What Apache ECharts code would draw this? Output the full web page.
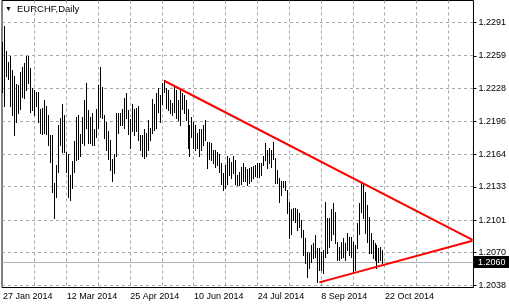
<!DOCTYPE html>
<html><head><meta charset="utf-8">
<script src="https://cdn.jsdelivr.net/npm/echarts@6/dist/echarts.min.js"></script>
<style>html,body{margin:0;padding:0;background:#fff}#c{width:509px;height:306px}</style>
</head><body><div id="c"></div>
<script>
const symbolName = 'EURCHF,Daily';
const firstDay = [2014, 0, 27];
const totalSlots = 237;
const monthNames = ['Jan','Feb','Mar','Apr','May','Jun','Jul','Aug','Sep','Oct','Nov','Dec'];
const highs = [
1.2272,1.2288,1.2264,1.2253,1.2259,1.2245,1.2240,1.2232,1.2231,1.2243,1.2248,1.2252,1.2259,1.2259,1.2247,1.2228,
1.2226,1.2224,1.2224,1.2208,1.2209,1.2216,1.2211,1.2202,1.2183,1.2183,1.2137,1.2154,1.2192,1.2199,1.2213,1.2202,
1.2166,1.2165,1.2144,1.2158,1.2177,1.2200,1.2202,1.2184,1.2200,1.2216,1.2233,1.2207,1.2200,1.2204,1.2189,1.2208,
1.2231,1.2248,1.2229,1.2202,1.2195,1.2187,1.2178,1.2160,1.2165,1.2204,1.2204,1.2204,1.2208,1.2218,1.2223,1.2207,
1.2198,1.2213,1.2208,1.2209,1.2211,1.2183,1.2183,1.2189,1.2185,1.2197,1.2190,1.2217,1.2213,1.2223,1.2228,1.2221,
1.2233,1.2236,1.2228,1.2226,1.2216,1.2214,1.2229,1.2226,1.2216,1.2226,1.2223,1.2221,1.2216,1.2208,1.2192,1.2200,
1.2195,1.2192,1.2185,1.2189,1.2189,1.2192,1.2197,1.2176,1.2176,1.2175,1.2168,1.2168,1.2166,1.2165,1.2156,1.2146,
1.2154,1.2163,1.2161,1.2157,1.2163,1.2159,1.2144,1.2147,1.2152,1.2156,1.2152,1.2150,1.2151,1.2152,1.2153,1.2154,
1.2156,1.2156,1.2156,1.2163,1.2175,1.2168,1.2170,1.2168,1.2176,1.2161,1.2149,1.2141,1.2139,1.2139,1.2139,1.2130,
1.2118,1.2112,1.2113,1.2113,1.2112,1.2108,1.2101,1.2091,1.2084,1.2070,1.2069,1.2077,1.2079,1.2087,1.2074,1.2074,
1.2070,1.2072,1.2118,1.2103,1.2103,1.2112,1.2117,1.2109,1.2080,1.2075,1.2080,1.2084,1.2079,1.2089,1.2085,1.2085,
1.2080,1.2077,1.2098,1.2117,1.2137,1.2136,1.2128,1.2115,1.2104,1.2089,1.2082,1.2079,1.2077,1.2074,1.2075,1.2072];
const lows = [
1.2224,1.2211,1.2240,1.2237,1.2211,1.2202,1.2183,1.2195,1.2204,1.2208,1.2219,1.2218,1.2226,1.2233,1.2205,1.2207,
1.2202,1.2211,1.2195,1.2185,1.2184,1.2185,1.2184,1.2173,1.2157,1.2128,1.2103,1.2123,1.2147,1.2173,1.2166,1.2166,
1.2147,1.2123,1.2120,1.2132,1.2147,1.2159,1.2160,1.2163,1.2175,1.2173,1.2190,1.2175,1.2175,1.2173,1.2173,1.2181,
1.2190,1.2200,1.2199,1.2180,1.2168,1.2160,1.2149,1.2139,1.2146,1.2163,1.2185,1.2192,1.2192,1.2190,1.2199,1.2184,
1.2170,1.2187,1.2183,1.2187,1.2178,1.2168,1.2163,1.2161,1.2163,1.2168,1.2178,1.2185,1.2188,1.2190,1.2205,1.2195,
1.2213,1.2224,1.2209,1.2207,1.2204,1.2202,1.2205,1.2199,1.2197,1.2192,1.2208,1.2204,1.2197,1.2170,1.2163,1.2181,
1.2170,1.2168,1.2170,1.2163,1.2168,1.2173,1.2178,1.2151,1.2160,1.2159,1.2156,1.2152,1.2154,1.2147,1.2136,1.2130,
1.2132,1.2136,1.2144,1.2141,1.2146,1.2136,1.2135,1.2135,1.2136,1.2139,1.2139,1.2135,1.2137,1.2139,1.2141,1.2143,
1.2142,1.2142,1.2144,1.2154,1.2159,1.2151,1.2156,1.2152,1.2160,1.2137,1.2137,1.2118,1.2125,1.2133,1.2130,1.2108,
1.2084,1.2088,1.2101,1.2099,1.2091,1.2094,1.2085,1.2067,1.2060,1.2046,1.2055,1.2061,1.2064,1.2065,1.2041,1.2053,
1.2053,1.2050,1.2065,1.2069,1.2075,1.2082,1.2088,1.2079,1.2063,1.2063,1.2064,1.2065,1.2063,1.2072,1.2067,1.2065,
1.2050,1.2053,1.2074,1.2088,1.2109,1.2103,1.2089,1.2080,1.2069,1.2069,1.2064,1.2063,1.2055,1.2061,1.2063,1.2060];
const priceTicks = [1.2038, 1.2070, 1.2101, 1.2133, 1.2164, 1.2196, 1.2228, 1.2259, 1.2291];
const lastPrice = 1.2060;
const upperTrend = [[81, 1.2235], [236, 1.2082]];
const lowerTrend = [[159, 1.2041], [236, 1.2081]];
const labelEvery = 32;
const gridEvery = 16;

const categories = [];
let t = Date.UTC(firstDay[0], firstDay[1], firstDay[2]);
while (categories.length < totalSlots) {
  const d = new Date(t);
  const wd = d.getUTCDay();
  if (wd !== 0 && wd !== 6) categories.push(d.getUTCDate() + ' ' + monthNames[d.getUTCMonth()] + ' ' + d.getUTCFullYear());
  t += 86400000;
}
const vGrid = [];
for (let i = gridEvery; i < totalSlots; i += gridEvery) vGrid.push(i);

const FONT = 'Liberation Sans';
const GRID_COLOR = '#a3ada3';

const chart = echarts.init(document.getElementById('c'), null, {renderer: 'canvas'});
chart.setOption({
  animation: false,
  backgroundColor: '#ffffff',
  grid: {left: 1.5, right: 33.5, top: 0.5, bottom: 18.5, show: true, borderColor: '#000', borderWidth: 1, backgroundColor: 'transparent', containLabel: false},
  graphic: [
    {type: 'text', left: 5, top: 6, style: {text: '▼', fontSize: 7, fill: '#000', fontFamily: FONT}},
    {type: 'text', left: 17, top: 4, style: {text: symbolName, fontSize: 9.5, fill: '#000', fontFamily: FONT}}
  ],
  xAxis: {
    type: 'category', data: categories, boundaryGap: true,
    axisLine: {show: false}, axisTick: {show: false}, splitLine: {show: false},
    axisLabel: {
      interval: (idx) => idx % labelEvery === 0 && idx + labelEvery <= totalSlots,
      align: 'left', margin: 5, color: '#000', fontSize: 9, fontFamily: FONT, hideOverlap: false
    }
  },
  yAxis: {
    type: 'value', position: 'right', min: 1.20361, max: 1.23122,
    axisLine: {show: false}, splitLine: {show: false},
    axisTick: {show: true, customValues: priceTicks, length: 3, lineStyle: {color: '#000'}},
    axisLabel: {customValues: priceTicks, formatter: (v) => v.toFixed(4), color: '#000', fontSize: 9, fontFamily: FONT, margin: 5}
  },
  series: [
    {
      type: 'custom', z: 1, silent: true,
      data: priceTicks.map(v => [0, v]),
      encode: {x: 0, y: 1},
      renderItem: (params, api) => {
        const cs = params.coordSys;
        const y = Math.floor(api.coord([0, api.value(1)])[1]) + 0.5;
        return {type: 'line', shape: {x1: cs.x, y1: y, x2: cs.x + cs.width, y2: y},
          style: {stroke: GRID_COLOR, lineWidth: 1, lineDash: [3, 3]}};
      }
    },
    {
      type: 'custom', z: 1, silent: true,
      data: vGrid.map(i => [i, lastPrice]),
      encode: {x: 0, y: 1},
      renderItem: (params, api) => {
        const cs = params.coordSys;
        const x = Math.floor(api.coord([api.value(0), lastPrice])[0]) + 0.5;
        return {type: 'line', shape: {x1: x, y1: cs.y, x2: x, y2: cs.y + cs.height},
          style: {stroke: GRID_COLOR, lineWidth: 1, lineDash: [3, 3]}};
      }
    },
    {
      type: 'custom', z: 1, silent: true, clip: false,
      data: [[0, lastPrice]],
      encode: {x: 0, y: 1},
      renderItem: (params, api) => {
        const cs = params.coordSys;
        const y = Math.floor(api.coord([0, api.value(1)])[1]) + 0.5;
        const bx = cs.x + cs.width + 0.5;
        return {type: 'group', children: [
          {type: 'line', shape: {x1: cs.x, y1: y, x2: cs.x + cs.width, y2: y}, style: {stroke: '#b4b4b4', lineWidth: 1}},
          {type: 'rect', shape: {x: bx, y: y - 6.5, width: 509 - bx, height: 12}, style: {fill: '#000'}},
          {type: 'text', x: bx + 4, y: y, style: {text: lastPrice.toFixed(4), fill: '#fff', fontSize: 9, fontFamily: FONT, verticalAlign: 'middle', align: 'left'}}
        ]};
      }
    },
    {
      type: 'custom', z: 2,
      data: highs.map((h, i) => [i, h, lows[i]]),
      encode: {x: 0, y: [1, 2]},
      renderItem: (params, api) => {
        const i = api.value(0);
        const p1 = api.coord([i, api.value(1)]);
        const p2 = api.coord([i, api.value(2)]);
        const x = Math.floor(p1[0]) + 0.5;
        return {type: 'line', shape: {x1: x, y1: Math.round(p1[1]), x2: x, y2: Math.round(p2[1]) + 1}, style: {stroke: '#000', lineWidth: 1}};
      }
    },
    {type: 'line', data: upperTrend, symbol: 'none', z: 3, lineStyle: {color: '#ff0000', width: 2}, silent: true},
    {type: 'line', data: lowerTrend, symbol: 'none', z: 3, lineStyle: {color: '#ff0000', width: 2}, silent: true}
  ]
});
</script></body></html>
